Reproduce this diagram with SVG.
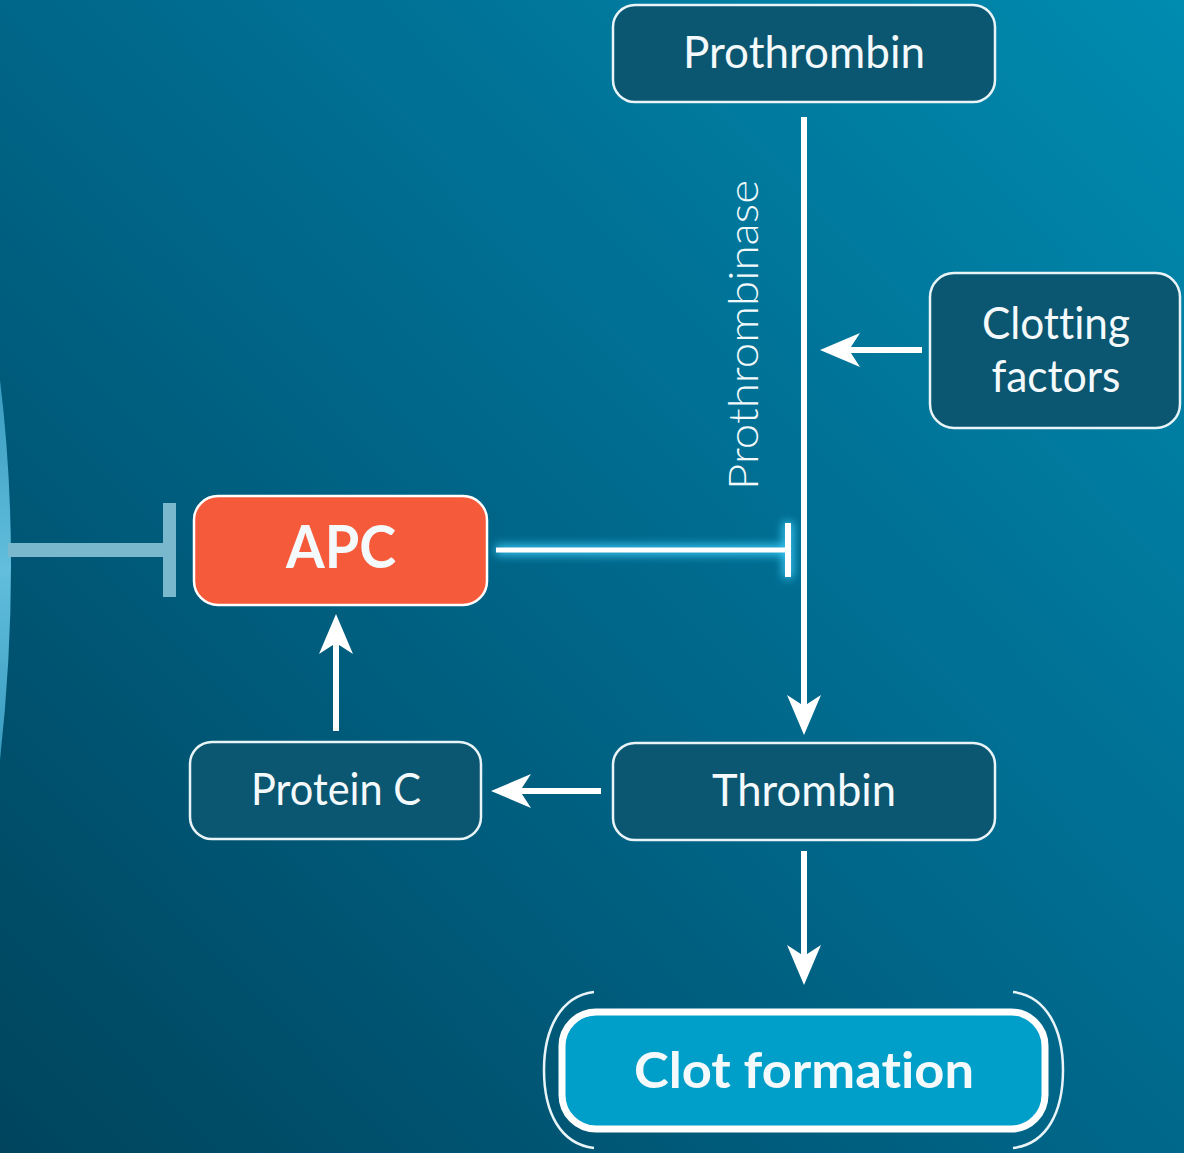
<svg xmlns="http://www.w3.org/2000/svg" width="1184" height="1153" viewBox="0 0 1184 1153">
  <defs>
    <linearGradient id="bg" x1="0" y1="1153" x2="1184" y2="0" gradientUnits="userSpaceOnUse">
      <stop offset="0" stop-color="#00445d"/>
      <stop offset="0.5" stop-color="#00678a"/>
      <stop offset="1" stop-color="#008bb0"/>
    </linearGradient>
    <linearGradient id="edge" x1="0" y1="380" x2="0" y2="760" gradientUnits="userSpaceOnUse">
      <stop offset="0" stop-color="#3a9cc0"/>
      <stop offset="0.5" stop-color="#62bedc"/>
      <stop offset="1" stop-color="#3a9cc0"/>
    </linearGradient>
    <marker id="arrow" viewBox="0 0 40 34" refX="25" refY="17" markerWidth="40" markerHeight="34" markerUnits="userSpaceOnUse" orient="auto">
      <path d="M0,0 L40,17 L0,34 L11,17 Z" fill="#ffffff"/>
    </marker>
    <filter id="glow" x="-20%" y="-200%" width="140%" height="500%">
      <feGaussianBlur stdDeviation="5"/>
    </filter>
  </defs>
  <style>
    .box { fill: #0b5670; stroke: #e8f4f8; stroke-width: 2.5; }
    .lbl { font-family: "Lato", "Noto Sans", "Liberation Sans", sans-serif; fill: #f4fafc; text-anchor: middle; font-variant-ligatures: none; }
    .conn { stroke: #ffffff; stroke-width: 6; fill: none; }
  </style>

  <rect x="0" y="0" width="1184" height="1153" fill="url(#bg)"/>
  <path d="M0,380 Q22,560 0,760 Z" fill="url(#edge)"/>

  <g id="connectors">
    <!-- main vertical: Prothrombin to Thrombin -->
    <line class="conn" x1="804" y1="117" x2="804" y2="720" marker-end="url(#arrow)"/>
    <!-- clotting factors to main -->
    <line class="conn" x1="922" y1="350" x2="835" y2="350" marker-end="url(#arrow)"/>
    <!-- Thrombin to Protein C -->
    <line class="conn" x1="601" y1="791" x2="506" y2="791" marker-end="url(#arrow)"/>
    <!-- Protein C to APC -->
    <line class="conn" x1="336" y1="731" x2="336" y2="629" marker-end="url(#arrow)"/>
    <!-- Thrombin to Clot formation -->
    <line class="conn" x1="804" y1="851" x2="804" y2="970" marker-end="url(#arrow)"/>
    <!-- APC inhibits prothrombinase (glow) -->
    <g filter="url(#glow)" opacity="0.9">
      <line x1="496" y1="550" x2="788" y2="550" stroke="#3fd0ff" stroke-width="10"/>
      <line x1="788" y1="522" x2="788" y2="578" stroke="#3fd0ff" stroke-width="10"/>
    </g>
    <line x1="496" y1="550" x2="788" y2="550" stroke="#ffffff" stroke-width="5"/>
    <line x1="788" y1="523" x2="788" y2="577" stroke="#ffffff" stroke-width="6"/>
    <!-- left inhibition into APC -->
    <line x1="8" y1="550" x2="164" y2="550" stroke="#79b8cd" stroke-width="14"/>
    <line x1="169.5" y1="503" x2="169.5" y2="597" stroke="#79b8cd" stroke-width="13"/>
  </g>

  <text class="lbl" transform="translate(758,335) rotate(-90)" font-size="42" font-weight="300" textLength="310" lengthAdjust="spacingAndGlyphs">Prothrombinase</text>

  <g id="prothrombin">
    <rect class="box" x="613" y="5" width="382" height="97" rx="22"/>
    <text class="lbl" x="804" y="68" font-size="44" textLength="242" lengthAdjust="spacingAndGlyphs">Prothrombin</text>
  </g>

  <g id="clotting-factors">
    <rect class="box" x="930" y="273" width="250" height="155" rx="24"/>
    <text class="lbl" x="1056" y="339" font-size="44" textLength="148" lengthAdjust="spacingAndGlyphs">Clotting</text>
    <text class="lbl" x="1056" y="392" font-size="44" textLength="129" lengthAdjust="spacingAndGlyphs">factors</text>
  </g>

  <g id="apc">
    <rect x="194" y="496" width="293" height="109" rx="24" fill="#f55a3a" stroke="#ffffff" stroke-width="2.5"/>
    <text class="lbl" x="341" y="568" font-size="60" font-weight="bold" fill="#ffffff" textLength="110" lengthAdjust="spacingAndGlyphs">APC</text>
  </g>

  <g id="protein-c">
    <rect class="box" x="190" y="742" width="291" height="97" rx="22"/>
    <text class="lbl" x="336" y="805" font-size="44" textLength="170" lengthAdjust="spacingAndGlyphs">Protein C</text>
  </g>

  <g id="thrombin">
    <rect class="box" x="613" y="743" width="382" height="97" rx="22"/>
    <text class="lbl" x="804" y="806" font-size="44" textLength="184" lengthAdjust="spacingAndGlyphs">Thrombin</text>
  </g>

  <g id="clot-formation">
    <path d="M594,992 C560,996 544,1030 544,1070 C544,1112 560,1144 594,1148" fill="none" stroke="#e8f4f8" stroke-width="2.5"/>
    <path d="M1013,992 C1047,996 1063,1030 1063,1070 C1063,1112 1047,1144 1013,1148" fill="none" stroke="#e8f4f8" stroke-width="2.5"/>
    <rect x="562" y="1012" width="483" height="117" rx="34" fill="#009fc9" stroke="#ffffff" stroke-width="7"/>
    <text class="lbl" x="804" y="1088" font-size="50" font-weight="bold" fill="#ffffff" textLength="340" lengthAdjust="spacingAndGlyphs">Clot formation</text>
  </g>
</svg>
